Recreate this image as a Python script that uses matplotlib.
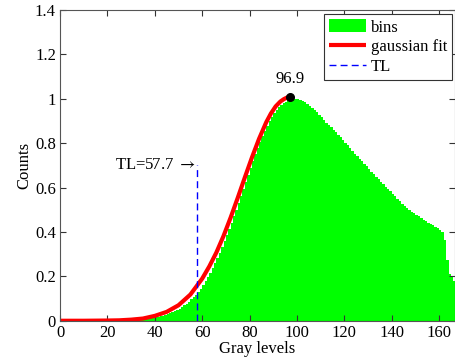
import numpy as np
import matplotlib
matplotlib.use("Agg")
from matplotlib import pyplot as plt

# histogram heights, one per gray level (bin i covers [i, i+1))
bin_heights = [
    0, 0, 0, 0, 0, 0, 0, 0, 0, 0,
    0, 0, 0, 0, 0, 0, 0, 0, 0, 0,
    0, 0, 0, 0, 0, 0, 0, 0, 0.001, 0.002,
    0.003, 0.004, 0.005, 0.006, 0.007, 0.008, 0.009, 0.011, 0.012, 0.014,
    0.015, 0.017, 0.020, 0.023, 0.026, 0.030, 0.034, 0.038, 0.043, 0.049,
    0.055, 0.062, 0.069, 0.077, 0.086, 0.096, 0.107, 0.118, 0.131, 0.145,
    0.160, 0.178, 0.197, 0.217, 0.238, 0.260, 0.283, 0.307, 0.332, 0.358,
    0.385, 0.413, 0.442, 0.471, 0.501, 0.532, 0.563, 0.595, 0.627, 0.659,
    0.690, 0.720, 0.750, 0.778, 0.805, 0.831, 0.856, 0.879, 0.900, 0.919,
    0.936, 0.951, 0.963, 0.973, 0.981, 0.988, 0.993, 0.996, 0.999, 1.000,
    0.998, 0.994, 0.989, 0.984, 0.977, 0.969, 0.960, 0.950, 0.939, 0.928,
    0.916, 0.904, 0.893, 0.882, 0.871, 0.861, 0.850, 0.838, 0.826, 0.814,
    0.802, 0.790, 0.778, 0.765, 0.753, 0.741, 0.730, 0.719, 0.708, 0.696,
    0.684, 0.672, 0.661, 0.649, 0.638, 0.627, 0.616, 0.605, 0.594, 0.583,
    0.572, 0.561, 0.550, 0.539, 0.528, 0.518, 0.509, 0.500, 0.492, 0.484,
    0.477, 0.470, 0.463, 0.456, 0.449, 0.442, 0.436, 0.430, 0.423, 0.417,
    0.410, 0.399, 0.362, 0.275, 0.209, 0.200, 0.180,
]
bin_levels = list(range(len(bin_heights)))

# gaussian fit, left side up to the peak
fit_x = [0, 10, 20, 25, 30, 35, 40, 45, 50, 55, 60, 63, 66, 69, 72, 75,
         78, 81, 84, 87, 89, 91, 93, 94.5, 96, 96.9]
fit_y = [0.0, 0.0, 0.001, 0.002, 0.005, 0.010, 0.022, 0.040, 0.070, 0.118,
         0.190, 0.245, 0.308, 0.382, 0.465, 0.554, 0.646, 0.736, 0.820,
         0.894, 0.934, 0.966, 0.988, 0.999, 1.007, 1.010]

peak_x = 96.9
peak_y = 1.01
tl_x = 57.7
tl_top = 0.7

plt.rcParams['font.family'] = ['Liberation Serif', 'DejaVu Serif']
plt.rcParams['font.size'] = 12
plt.rcParams['mathtext.fontset'] = 'stix'

fig = plt.figure(figsize=(4.55, 3.6), dpi=100)
ax = fig.add_axes([0.132, 0.109, 0.868, 0.863])

h_bins = ax.bar(bin_levels, bin_heights, width=1.0, align='edge',
                color=(0, 1, 0), edgecolor='none', linewidth=0, label='bins')
h_fit, = ax.plot(fit_x, fit_y, color=(1, 0, 0), lw=3, label='gaussian fit',
                 solid_capstyle='butt')
h_tl, = ax.plot([tl_x, tl_x], [0, tl_top], color=(0, 0, 1), lw=1,
                ls=(0, (5, 3)), label='TL')
ax.plot([peak_x], [peak_y], 'o', color='k', ms=5.5)
ax.text(peak_x, peak_y + 0.045, '96.9', ha='center', va='bottom')
ax.text(tl_x - 0.3, tl_top, r'TL=57.7 $\rightarrow$', ha='right',
        va='center')

ax.set_xlim(0, 166.7)
ax.set_ylim(0, 1.4)
ax.set_xticks(np.arange(0, 161, 20))
ax.set_yticks([0, 0.2, 0.4, 0.6, 0.8, 1, 1.2, 1.4])
ax.set_yticklabels(['0', '0.2', '0.4', '0.6', '0.8', '1', '1.2', '1.4'])
ax.tick_params(direction='in', top=True, right=True, length=4,
               width=0.8, color='#333333', pad=3)
for s in ax.spines.values():
    s.set_color('#555555')
    s.set_linewidth(0.8)
ax.set_xlabel('Gray levels', labelpad=0)
ax.set_ylabel('Counts', labelpad=2)

leg = ax.legend([h_bins, h_fit, h_tl], ['bins', 'gaussian fit', 'TL'],
                loc='upper right', bbox_to_anchor=(0.993, 0.987),
                borderaxespad=0, handlelength=2.2, handleheight=0.85,
                handletextpad=0.3, borderpad=0.3, labelspacing=0.2,
                fancybox=False, framealpha=1)
leg.get_frame().set_edgecolor('#333333')
leg.get_frame().set_linewidth(0.8)

fig.savefig('out.png', dpi=100)
